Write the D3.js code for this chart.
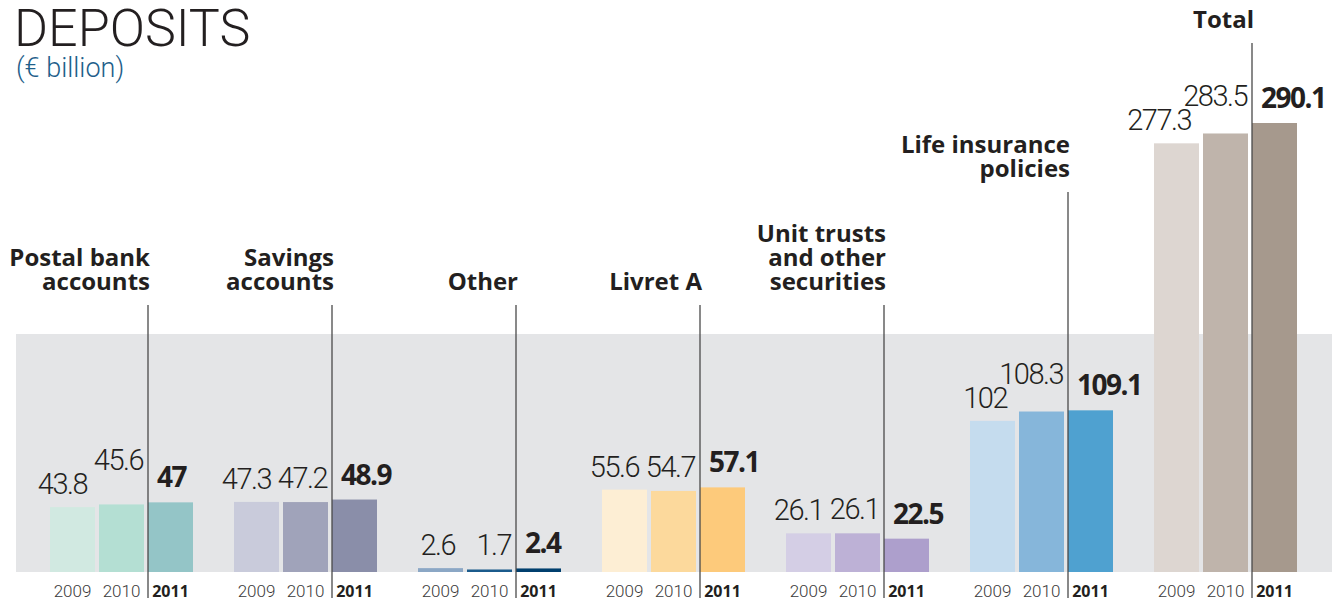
<!DOCTYPE html>
<html>
<head>
<meta charset="utf-8">
<script src="https://cdn.jsdelivr.net/npm/d3@7"></script>
<style>
  html, body { margin: 0; padding: 0; background: #fff; }
  svg { display: block; }
  .light { font-family: Roboto, Lato, sans-serif; font-weight: 300; }
  .bold  { font-family: "Open Sans", "Noto Sans", sans-serif; font-weight: 700; }
</style>
</head>
<body>
<svg id="chart" width="1336" height="600"></svg>
<script>
const categories = ['Postal bank accounts', 'Savings accounts', 'Other', 'Livret A',
                    'Unit trusts and other securities', 'Life insurance policies', 'Total'];
const categoryLines = [
  ['Postal bank', 'accounts'],
  ['Savings', 'accounts'],
  ['Other'],
  ['Livret A'],
  ['Unit trusts', 'and other', 'securities'],
  ['Life insurance', 'policies'],
  ['Total'],
];
const years = ['2009', '2010', '2011'];
const values2009 = [43.8, 47.3, 2.6, 55.6, 26.1, 102, 277.3];
const values2010 = [45.6, 47.2, 1.7, 54.7, 26.1, 108.3, 283.5];
const values2011 = [47, 48.9, 2.4, 57.1, 22.5, 109.1, 290.1];
const palette = [
  ['#d1e9e1', '#b4dfd3', '#94c5c7'],
  ['#c9cbdb', '#a0a3ba', '#8a8ea9'],
  ['#8ba7c5', '#1b5b8c', '#003f6e'],
  ['#fdeed4', '#fcd99c', '#fdca7b'],
  ['#d4cee5', '#bdb1d6', '#ad9fcc'],
  ['#c5dcee', '#86b6da', '#4fa1d0'],
  ['#ddd6d1', '#bfb4ab', '#a6998d'],
];

const BASE   = 572;
const INK    = '#231f20';
// label block bottoms: the designer moved the last two up above their bars
const labelBottom = categories.map((c, i) => i === 5 ? 177 : i === 6 ? 28 : 290);

const svg = d3.select('#chart');

const x0 = d3.scaleBand().domain(categories).range([50, 1297])
  .paddingInner(41 / 184).paddingOuter(0);
const x1 = d3.scaleBand().domain(years).range([0, x0.bandwidth()])
  .paddingInner(4 / 49).paddingOuter(0);
// piecewise scale, the print chart exaggerates the total a little
const y = d3.scaleLinear().domain([0, 110, 290.1]).range([BASE, 409, 123]);

// grey band
svg.append('rect')
  .attr('x', 16).attr('y', 334).attr('width', 1316).attr('height', BASE - 334)
  .attr('fill', '#e4e5e7');

// title
svg.append('text').attr('class', 'light')
  .attr('x', 14).attr('y', 46)
  .attr('font-size', '52px').attr('fill', INK)
  .text('DEPOSITS');
svg.append('text').attr('class', 'light')
  .attr('x', 16).attr('y', 77)
  .attr('font-size', '27px').attr('fill', '#1f5f8b')
  .text('(€ billion)');

const rows = categories.map((c, i) => ({
  cat: c,
  i,
  vals: [values2009[i], values2010[i], values2011[i]],
}));

const groups = svg.selectAll('.grp')
  .data(rows)
  .join('g').attr('class', 'grp')
  .attr('transform', d => `translate(${x0(d.cat)},0)`);

// bars
groups.selectAll('rect')
  .data(d => years.map((yr, j) => ({ yr, j, v: d.vals[j], color: palette[d.i][j] })))
  .join('rect')
  .attr('x', d => x1(d.yr))
  .attr('y', d => y(d.v))
  .attr('width', x1.bandwidth())
  .attr('height', d => BASE - y(d.v))
  .attr('fill', d => d.color);

// year labels
groups.selectAll('.yr')
  .data(years)
  .join('text')
  .attr('class', (d, j) => j === 2 ? 'yr bold' : 'yr light')
  .attr('x', d => x1(d) + x1.bandwidth() / 2)
  .attr('y', 597)
  .attr('text-anchor', 'middle')
  .attr('font-size', d => d === '2011' ? '16px' : '17px')
  .attr('fill', d => d === '2011' ? INK : '#3a3a3a')
  .text(d => d);

// value labels
groups.each(function (d) {
  const g = d3.select(this);
  const [v09, v10, v11] = d.vals;
  const b09 = y(v09) - 13;
  // when 2010 is taller, stack its label above the 2009 label
  const b10 = v10 > v09 ? b09 - 24 : y(v10) - 14;
  const b11 = y(v11) - 15;

  g.append('text').attr('class', 'light')
    .attr('x', x1('2009') + 37).attr('y', b09)
    .attr('text-anchor', 'end')
    .attr('font-size', '29px').attr('letter-spacing', '-1.5px').attr('fill', INK)
    .text(v09);
  g.append('text').attr('class', 'light')
    .attr('x', x1('2010') + 44).attr('y', b10)
    .attr('text-anchor', 'end')
    .attr('font-size', '29px').attr('letter-spacing', '-1.5px').attr('fill', INK)
    .text(v10);
  g.append('text').attr('class', 'bold')
    .attr('x', x1('2011') + 9).attr('y', b11)
    .attr('font-size', '28px').attr('letter-spacing', '-1.5px').attr('fill', INK)
    .text(v11);

  // category label + leader line
  const lx = x1('2011');
  const lines = categoryLines[d.i];
  const bottom = labelBottom[d.i];
  const t = g.append('text').attr('class', 'bold')
    .attr('text-anchor', 'end')
    .attr('font-size', '24px').attr('fill', INK);
  lines.forEach((ln, k) => {
    t.append('tspan')
      .attr('x', lx + 2)
      .attr('y', bottom - (lines.length - 1 - k) * 24)
      .text(ln);
  });

  g.append('line')
    .attr('x1', lx).attr('x2', lx)
    .attr('y1', bottom + 15).attr('y2', 598)
    .attr('stroke', '#4a4a4a').attr('stroke-width', 1.3);
});
</script>
</body>
</html>
